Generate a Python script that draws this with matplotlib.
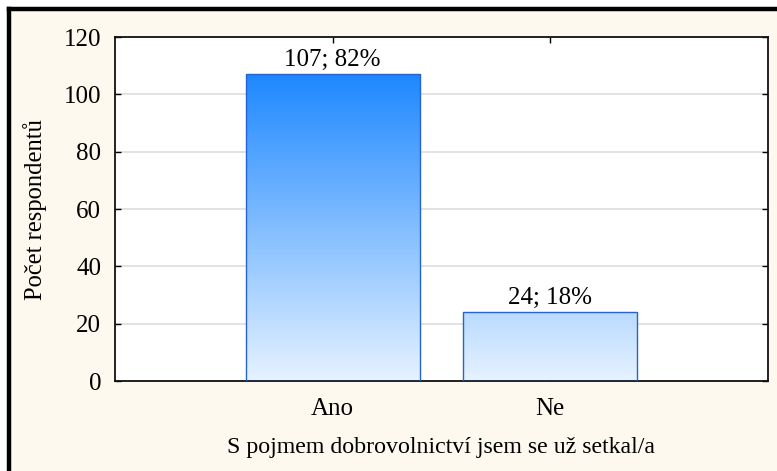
import matplotlib
matplotlib.use("Agg")
import matplotlib.pyplot as plt
import numpy as np
from matplotlib.patches import Rectangle
from matplotlib.lines import Line2D
from matplotlib.colors import LinearSegmentedColormap

categories = ["Ano", "Ne"]
counts = [107, 24]
percents = [82, 18]
y_ticks = [0, 20, 40, 60, 80, 100, 120]

plt.rcParams['font.family'] = ['Liberation Serif', 'DejaVu Serif']
FS = 18

W, H = 777, 471
fig = plt.figure(figsize=(W / 100, H / 100), dpi=100, facecolor='white')

# cream background with black top/left border
fig.patches.append(Rectangle((9 / W, -0.1), 1.2, 1 - 9 / H + 0.1, transform=fig.transFigure,
                             facecolor='#FEF9EE', edgecolor='none', zorder=-10))
fig.lines.append(Line2D([9 / W, 1.0], [1 - 9 / H, 1 - 9 / H], transform=fig.transFigure,
                        color='black', linewidth=3.2, solid_capstyle='projecting'))
fig.lines.append(Line2D([9 / W, 9 / W], [0, 1 - 9 / H], transform=fig.transFigure,
                        color='black', linewidth=3.2, solid_capstyle='projecting'))

ax = fig.add_axes([115 / W, 1 - 381 / H, (768 - 115) / W, (381 - 37) / H])
ax.set_facecolor('white')

x = np.arange(1, len(categories) + 1)

cmap = LinearSegmentedColormap.from_list('g', ['#E6F2FF', '#1E88FF'])
vmax = max(counts)
bars = ax.bar(x, counts, width=0.8, facecolor='none', edgecolor='#2463D0', linewidth=1.0, zorder=3)
for b in bars:
    h = b.get_height()
    g = np.linspace(0, h / vmax, 256).reshape(-1, 1)
    im = ax.imshow(g, cmap=cmap, vmin=0, vmax=1, origin='lower', aspect='auto',
                   extent=[b.get_x(), b.get_x() + b.get_width(), 0, h], zorder=2)
    im.set_clip_path(b)
ax.set_xlim(0, len(categories) + 1)
ax.set_ylim(0, 120)

for xi, c, p in zip(x, counts, percents):
    ax.annotate(f"{c}; {p}%", (xi, c), xytext=(0, 6), textcoords='offset points',
                ha='center', va='baseline', fontsize=FS)

ax.set_yticks(y_ticks)
ax.set_xticks(x)
ax.set_xticklabels(categories)
ax.yaxis.grid(True, color='#DADADA', linewidth=1.1)
ax.set_axisbelow(True)
ax.tick_params(axis='both', direction='in', length=4, width=1.0, labelsize=FS,
               top=True, right=True, color='black')
ax.tick_params(axis='y', pad=10)
ax.tick_params(axis='x', pad=12)
for s in ax.spines.values():
    s.set_linewidth(1.3)
    s.set_color('#111111')

ax.set_ylabel("Počet respondentů", fontsize=FS - 0.3, labelpad=12)
ax.set_xlabel("S pojmem dobrovolnictví jsem se už setkal/a", fontsize=17.2, labelpad=12.5)

fig.savefig("out.png", dpi=100, facecolor=fig.get_facecolor())
